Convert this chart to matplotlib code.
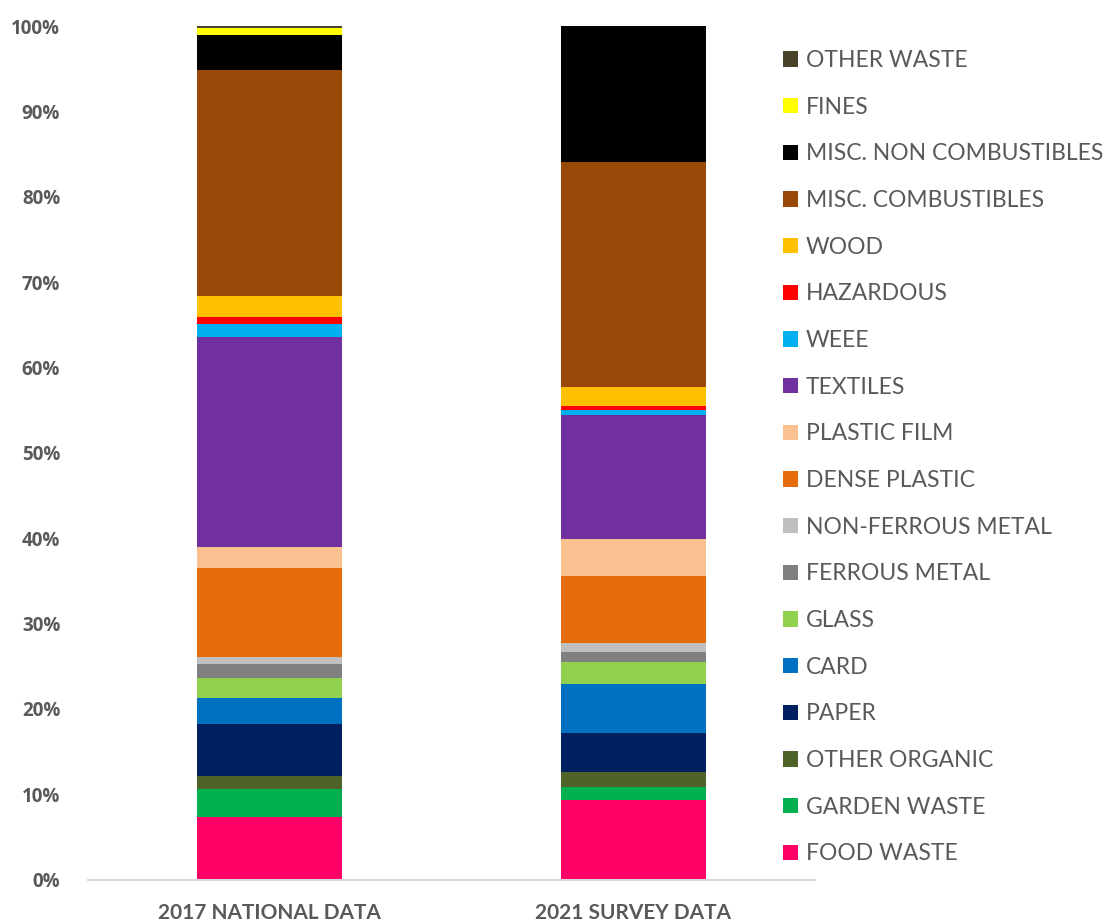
import matplotlib.pyplot as plt
import numpy as np
from matplotlib.patches import Patch
from matplotlib.ticker import FuncFormatter

# composition of residual waste, % by weight
groups = ["2017 NATIONAL DATA", "2021 SURVEY DATA"]
categories = [
    "FOOD WASTE", "GARDEN WASTE", "OTHER ORGANIC", "PAPER", "CARD", "GLASS",
    "FERROUS METAL", "NON-FERROUS METAL", "DENSE PLASTIC", "PLASTIC FILM",
    "TEXTILES", "WEEE", "HAZARDOUS", "WOOD", "MISC. COMBUSTIBLES",
    "MISC. NON COMBUSTIBLES", "FINES", "OTHER WASTE",
]
national_2017 = [7.27, 3.3, 1.6, 6.0, 3.05, 2.42, 1.56, 0.86, 10.5, 2.38,
                 24.65, 1.5, 0.82, 2.5, 26.5, 4.1, 0.75, 0.24]
survey_2021 = [9.34, 1.56, 1.72, 4.53, 5.78, 2.62, 1.17, 1.02, 7.81, 4.38,
               14.53, 0.62, 0.47, 2.19, 26.3, 15.96, 0.0, 0.0]
colors = [
    "#FF0066", "#00B050", "#4F6228", "#002060", "#0070C0", "#92D050",
    "#808080", "#BFBFBF", "#E46C0A", "#FAC090", "#7030A0", "#00B0F0",
    "#FF0000", "#FFC000", "#984807", "#000000", "#FFFF00", "#494429",
]

GRAY = "#595959"

fig = plt.figure(figsize=(11.04, 9.21), dpi=100)
ax = fig.add_axes([88 / 1104, 41.5 / 921, 727 / 1104, 853.2 / 921])

x = np.arange(len(groups))
bottom = np.zeros(len(groups))
for i, cat in enumerate(categories):
    vals = np.array([national_2017[i], survey_2021[i]])
    ax.bar(x, vals, bottom=bottom, width=0.4, color=colors[i],
           linewidth=0, label=cat)
    bottom += vals

ax.set_xlim(-0.5, 1.5)
ax.set_ylim(0, 100)
ax.set_yticks(np.arange(0, 101, 10))
ax.yaxis.set_major_formatter(FuncFormatter(lambda v, p: f"{v:.0f}%"))
ax.set_xticks(x)
ax.set_xticklabels(groups)

for s in ["top", "right", "left"]:
    ax.spines[s].set_visible(False)
ax.spines["bottom"].set_color("#D9D9D9")
ax.spines["bottom"].set_linewidth(1.5)

ax.tick_params(axis="y", length=0, pad=20, labelsize=13.5, labelcolor=GRAY)
ax.tick_params(axis="x", length=0, pad=17, labelsize=15, labelcolor=GRAY)
for lbl in ax.get_yticklabels():
    lbl.set_fontweight("bold")
    lbl.set_family("Open Sans")
for lbl in ax.get_xticklabels():
    lbl.set_fontweight("bold")
    lbl.set_family("Lato")

handles = [Patch(facecolor=c, edgecolor="none") for c in colors][::-1]
leg = fig.legend(handles, categories[::-1], loc="upper left",
                 bbox_to_anchor=(783 / 1104, 1 - 50 / 921), frameon=False,
                 prop={"family": "Lato", "size": 16.5}, labelcolor=GRAY,
                 handlelength=0.65, handleheight=0.65, handletextpad=0.35,
                 labelspacing=1.12, borderaxespad=0, borderpad=0)

fig.savefig("out.png", dpi=100)
